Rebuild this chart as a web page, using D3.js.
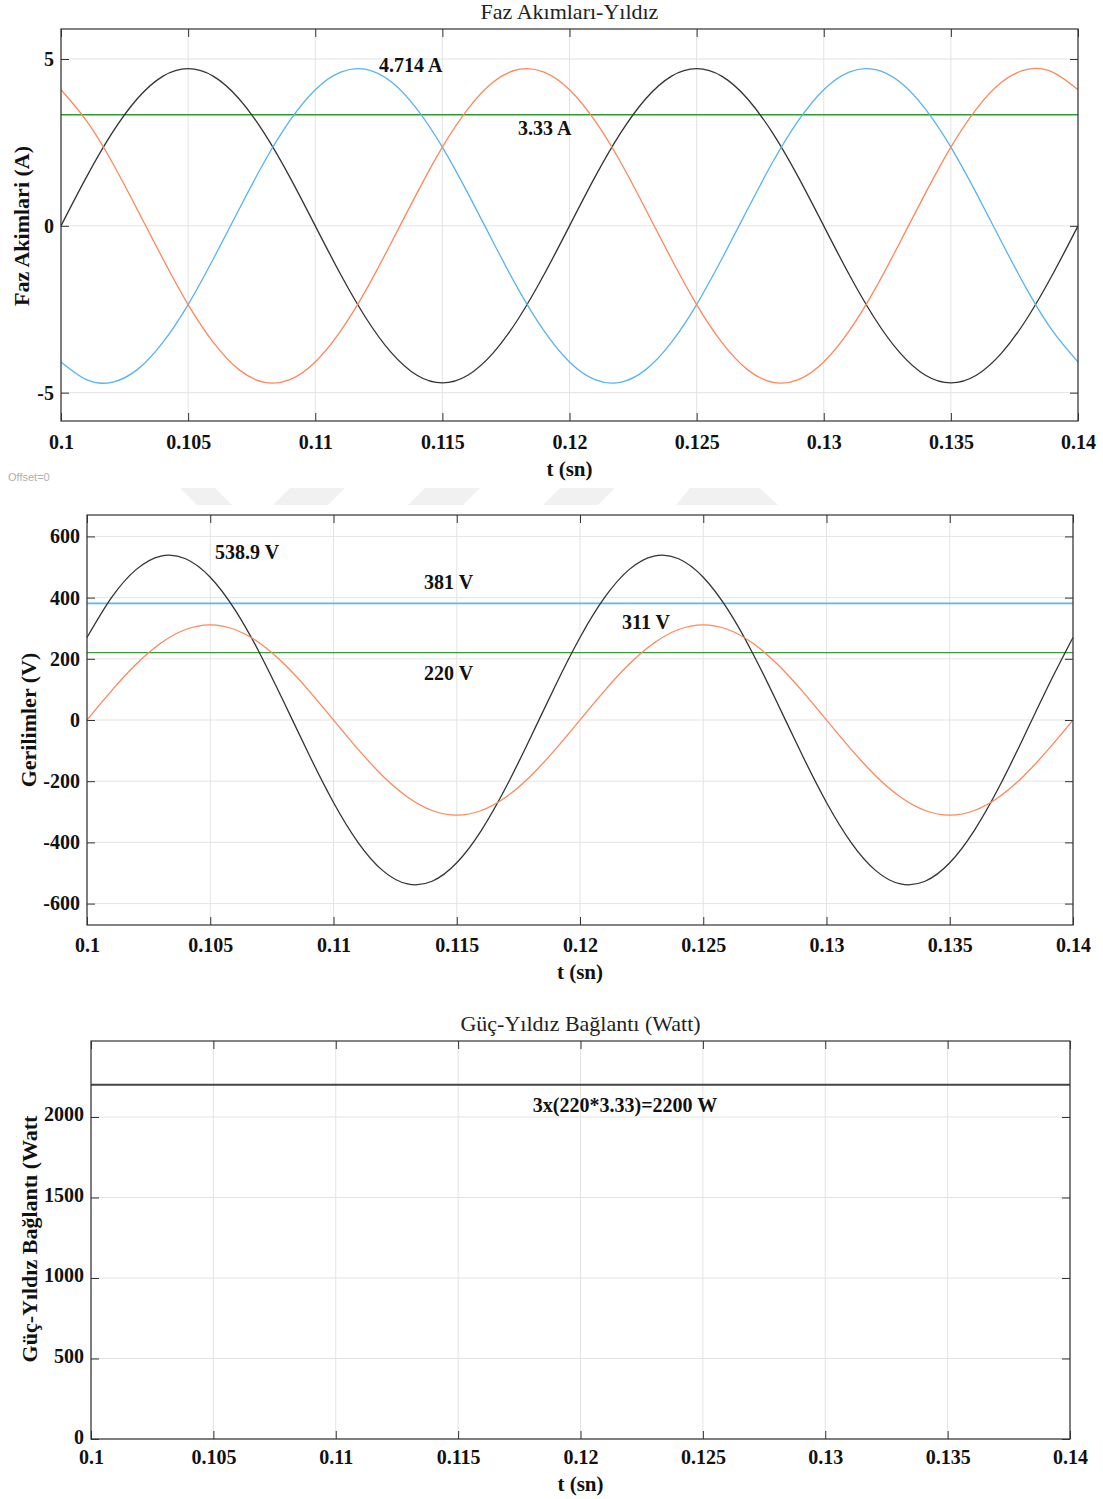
<!DOCTYPE html>
<html>
<head>
<meta charset="utf-8">
<script src="https://cdn.jsdelivr.net/npm/d3@7"></script>
<style>
  body { margin: 0; background: #fff; }
  svg { display: block; }
  text { font-family: "Liberation Serif", "Times New Roman", serif; }
</style>
</head>
<body>
<svg id="chart" width="1103" height="1499"></svg>
<script>
// time axis (s), sampled every 1 ms
const timeSec = [0.100, 0.101, 0.102, 0.103, 0.104, 0.105, 0.106, 0.107, 0.108, 0.109,
  0.110, 0.111, 0.112, 0.113, 0.114, 0.115, 0.116, 0.117, 0.118, 0.119,
  0.120, 0.121, 0.122, 0.123, 0.124, 0.125, 0.126, 0.127, 0.128, 0.129,
  0.130, 0.131, 0.132, 0.133, 0.134, 0.135, 0.136, 0.137, 0.138, 0.139, 0.140];
const xTicks = [0.1, 0.105, 0.11, 0.115, 0.12, 0.125, 0.13, 0.135, 0.14];
const xTickLabels = ["0.1", "0.105", "0.11", "0.115", "0.12", "0.125", "0.13", "0.135", "0.14"];

// phase currents (A)
const currentA = [0, 1.46, 2.77, 3.81, 4.48, 4.71, 4.48, 3.81, 2.77, 1.46, 0, -1.46, -2.77, -3.81, -4.48, -4.71, -4.48, -3.81, -2.77, -1.46,
  0, 1.46, 2.77, 3.81, 4.48, 4.71, 4.48, 3.81, 2.77, 1.46, 0, -1.46, -2.77, -3.81, -4.48, -4.71, -4.48, -3.81, -2.77, -1.46, 0];
const currentB = [-4.08, -4.61, -4.69, -4.31, -3.50, -2.36, -0.98, 0.49, 1.92, 3.15, 4.08, 4.61, 4.69, 4.31, 3.50, 2.36, 0.98, -0.49, -1.92, -3.15,
  -4.08, -4.61, -4.69, -4.31, -3.50, -2.36, -0.98, 0.49, 1.92, 3.15, 4.08, 4.61, 4.69, 4.31, 3.50, 2.36, 0.98, -0.49, -1.92, -3.15, -4.08];
const currentC = [4.08, 3.15, 1.92, 0.49, -0.98, -2.36, -3.50, -4.31, -4.69, -4.61, -4.08, -3.15, -1.92, -0.49, 0.98, 2.36, 3.50, 4.31, 4.69, 4.61,
  4.08, 3.15, 1.92, 0.49, -0.98, -2.36, -3.50, -4.31, -4.69, -4.61, -4.08, -3.15, -1.92, -0.49, 0.98, 2.36, 3.50, 4.31, 4.69, 4.61, 4.08];
const currentRms = 3.33;
const currentTicks = [-5, 0, 5];

// voltages (V)
const lineVoltage = [269.5, 400.5, 492.3, 535.9, 527.1, 466.7, 360.6, 219.2, 56.3, -112.0, -269.5, -400.5, -492.3, -535.9, -527.1, -466.7, -360.6, -219.2, -56.3, 112.0,
  269.5, 400.5, 492.3, 535.9, 527.1, 466.7, 360.6, 219.2, 56.3, -112.0, -269.5, -400.5, -492.3, -535.9, -527.1, -466.7, -360.6, -219.2, -56.3, 112.0, 269.5];
const phaseVoltage = [0, 96.1, 182.8, 251.6, 295.8, 311, 295.8, 251.6, 182.8, 96.1, 0, -96.1, -182.8, -251.6, -295.8, -311, -295.8, -251.6, -182.8, -96.1,
  0, 96.1, 182.8, 251.6, 295.8, 311, 295.8, 251.6, 182.8, 96.1, 0, -96.1, -182.8, -251.6, -295.8, -311, -295.8, -251.6, -182.8, -96.1, 0];
const lineRms = 381;
const phaseRms = 220;
const voltageTicks = [-600, -400, -200, 0, 200, 400, 600];

// power (W)
const powerTime = [0.1, 0.14];
const powerWatt = [2200, 2200];
const powerTicks = [0, 500, 1000, 1500, 2000];

const svg = d3.select("#chart");

// faint watermark + offset note between panels
const wm = [
  [[180, 488], [215, 488], [232, 505], [197, 505]],
  [[290, 488], [345, 488], [328, 505], [273, 505]],
  [[425, 488], [480, 488], [463, 505], [408, 505]],
  [[560, 488], [615, 488], [598, 505], [543, 505]],
  [[690, 488], [760, 488], [778, 505], [676, 505]]
];
svg.selectAll(".wm").data(wm).enter().append("polygon")
  .attr("points", d => d.map(p => p.join(",")).join(" "))
  .attr("fill", "#f1f1f1");
svg.append("text").attr("x", 8).attr("y", 481)
  .style("font-family", "'Liberation Sans', sans-serif").style("font-size", "11px")
  .attr("fill", "#b0b0b0").text("Offset=0");

function drawPanel(cfg) {
  const x = d3.scaleLinear().domain([0.1, 0.14]).range([cfg.left, cfg.right]);
  const y = d3.scaleLinear().domain(cfg.yDomain).range([cfg.bottom, cfg.top]);
  const g = svg.append("g");

  // grid
  g.selectAll(".gx").data(xTicks).enter().append("line")
    .attr("x1", d => x(d)).attr("x2", d => x(d))
    .attr("y1", cfg.top).attr("y2", cfg.bottom)
    .attr("stroke", "#e3e3e3").attr("stroke-width", 1);
  g.selectAll(".gy").data(cfg.yTicks).enter().append("line")
    .attr("x1", cfg.left).attr("x2", cfg.right)
    .attr("y1", d => y(d)).attr("y2", d => y(d))
    .attr("stroke", "#e3e3e3").attr("stroke-width", 1);

  const line = d3.line().x(d => x(d[0])).y(d => y(d[1])).curve(d3.curveNatural);

  // horizontal reference lines
  cfg.hlines.forEach(h => {
    g.append("line")
      .attr("x1", cfg.left).attr("x2", cfg.right)
      .attr("y1", y(h.v)).attr("y2", y(h.v))
      .attr("stroke", h.color).attr("stroke-width", h.w || 1.5);
  });

  cfg.series.forEach(s => {
    g.append("path")
      .datum(s.t.map((t, i) => [t, s.v[i]]))
      .attr("d", line)
      .attr("fill", "none")
      .attr("stroke", s.color)
      .attr("stroke-width", s.w || 1.3);
  });

  // box
  g.append("rect")
    .attr("x", cfg.left).attr("y", cfg.top)
    .attr("width", cfg.right - cfg.left).attr("height", cfg.bottom - cfg.top)
    .attr("fill", "none").attr("stroke", "#333").attr("stroke-width", 1.2);

  // axes (inward ticks, all four sides)
  g.append("g").attr("transform", `translate(0,${cfg.bottom})`)
    .call(d3.axisBottom(x).tickValues(xTicks).tickSizeInner(-8).tickSizeOuter(0)
      .tickFormat((d, i) => xTickLabels[i]))
    .call(a => a.select(".domain").remove())
    .call(a => a.selectAll("line").attr("stroke", "#333"))
    .call(a => a.selectAll("text").attr("dy", null).attr("y", cfg.xTickDy)
      .style("font-size", "20px").style("font-weight", "bold").attr("fill", "#111")
      .style("font-family", "'Liberation Serif', serif"));
  g.append("g").attr("transform", `translate(0,${cfg.top})`)
    .call(d3.axisTop(x).tickValues(xTicks).tickSizeInner(-8).tickSizeOuter(0).tickFormat(""))
    .call(a => a.select(".domain").remove())
    .call(a => a.selectAll("line").attr("stroke", "#333"));
  g.append("g").attr("transform", `translate(${cfg.left},0)`)
    .call(d3.axisLeft(y).tickValues(cfg.yTicks).tickSizeInner(-8).tickSizeOuter(0).tickPadding(7)
      .tickFormat(d => String(d)))
    .call(a => a.select(".domain").remove())
    .call(a => a.selectAll("line").attr("stroke", "#333"))
    .call(a => a.selectAll("text").attr("dy", cfg.yTickDy || "0.32em")
      .style("font-size", "20px").style("font-weight", "bold").attr("fill", "#111")
      .style("font-family", "'Liberation Serif', serif"));
  g.append("g").attr("transform", `translate(${cfg.right},0)`)
    .call(d3.axisRight(y).tickValues(cfg.yTicks).tickSizeInner(-8).tickSizeOuter(0).tickFormat(""))
    .call(a => a.select(".domain").remove())
    .call(a => a.selectAll("line").attr("stroke", "#333"));

  // titles & labels
  if (cfg.title) {
    g.append("text").attr("x", (cfg.left + cfg.right) / 2).attr("y", cfg.titleY)
      .attr("text-anchor", "middle").style("font-size", "22px").attr("fill", "#222")
      .text(cfg.title);
  }
  g.append("text").attr("x", (cfg.left + cfg.right) / 2).attr("y", cfg.xLabelY)
    .attr("text-anchor", "middle").style("font-size", "21px").style("font-weight", "bold")
    .attr("fill", "#111").text("t (sn)");
  g.append("text")
    .attr("transform", `translate(${cfg.yLabelX},${cfg.yLabelCY}) rotate(-90)`)
    .attr("text-anchor", "middle").attr("dy", "0.35em")
    .style("font-size", "22px").style("font-weight", "bold").attr("fill", "#111")
    .text(cfg.yLabel);

  cfg.notes.forEach(n => {
    g.append("text").attr("x", n.x).attr("y", n.y)
      .attr("text-anchor", n.anchor || "start")
      .style("font-size", "20px").style("font-weight", "bold").attr("fill", "#111")
      .text(n.text);
  });
}

drawPanel({
  left: 61, right: 1078, top: 29, bottom: 421,
  yDomain: [-5.85, 5.9], yTicks: currentTicks,
  xTickDy: 28, xLabelY: 476,
  title: "Faz Akımları-Yıldız", titleY: 19,
  yLabel: "Faz Akimlari (A)", yLabelX: 21, yLabelCY: 226,
  hlines: [{ v: currentRms, color: "#2f9a2f", w: 1.4 }],
  series: [
    { t: timeSec, v: currentA, color: "#333333" },
    { t: timeSec, v: currentB, color: "#56b4f2" },
    { t: timeSec, v: currentC, color: "#ff875a" }
  ],
  notes: [
    { x: 379, y: 72, text: "4.714 A" },
    { x: 518, y: 135, text: "3.33 A" }
  ]
});

drawPanel({
  left: 87, right: 1073, top: 515, bottom: 925,
  yDomain: [-670, 670], yTicks: voltageTicks,
  xTickDy: 27, xLabelY: 979,
  title: null,
  yLabel: "Gerilimler (V)", yLabelX: 28, yLabelCY: 720,
  hlines: [{ v: lineRms, color: "#5ab8f5", w: 1.8 }, { v: phaseRms, color: "#3c9a3c", w: 1.3 }],
  series: [
    { t: timeSec, v: lineVoltage, color: "#333333" },
    { t: timeSec, v: phaseVoltage, color: "#ff875a" }
  ],
  notes: [
    { x: 215, y: 559, text: "538.9 V" },
    { x: 424, y: 589, text: "381 V" },
    { x: 622, y: 629, text: "311 V" },
    { x: 424, y: 680, text: "220 V" }
  ]
});

drawPanel({
  left: 91, right: 1070, top: 1041, bottom: 1439,
  yDomain: [0, 2472], yTicks: powerTicks, yTickDy: "0.2em",
  xTickDy: 25, xLabelY: 1491,
  title: "Güç-Yıldız Bağlantı (Watt)", titleY: 1031,
  yLabel: "Güç-Yıldız Bağlantı (Watt", yLabelX: 29, yLabelCY: 1239,
  hlines: [],
  series: [
    { t: powerTime, v: powerWatt, color: "#444444", w: 2 }
  ],
  notes: [
    { x: 625, y: 1112, text: "3x(220*3.33)=2200 W", anchor: "middle" }
  ]
});
</script>
</body>
</html>
